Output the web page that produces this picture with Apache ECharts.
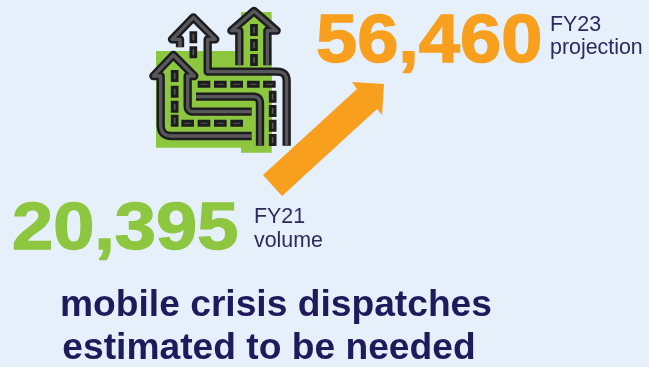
<!DOCTYPE html>
<html>
<head>
<meta charset="utf-8">
<style>html,body{margin:0;padding:0;background:#e6f0fa}#chart{width:649px;height:367px}</style>
<script src="https://cdn.jsdelivr.net/npm/echarts@6/dist/echarts.min.js"></script>
</head>
<body>
<div id="chart"></div>
<script>
// Headline figures and their captions
const volumes = [20395, 56460];
const periods = ['FY21', 'FY23'];
const kinds = ['volume', 'projection'];
const headline = ['mobile crisis dispatches', 'estimated to be needed'];

const ORANGE = '#f99f1e', GREEN = '#8dc63f', NAVY = '#1f1a5c', CAPTION = '#2c2a5e';
const FONT = '"Liberation Sans", Arial, sans-serif';

const chart = echarts.init(document.getElementById('chart'), null, {renderer: 'canvas'});
const fmt = v => v.toLocaleString('en-US');

// Icon artwork: three arrows rising out of a winding road, in a 3x local grid.
// A point tagged 'c' starts a rounded corner: the next two points are control and end.
const roads = [
  [[335,408],[95,408,'c'],[62,408],[62,375],[62,228],[40,228],[100,165],[163,228],[143,228],[143,318,'c'],[143,335],[160,335],[335,335]],
  [[120,142],[120,118],[96,118],[160,52],[226,118],[203,118],[203,215],[412,215,'c'],[440,215],[440,243],[440,437]],
  [[298,196],[298,92],[274,92],[342,33],[410,92],[382,92],[382,196]],
  [[168,290],[340,290,'c'],[360,290],[360,310],[360,437]]
];
const tallDashes = [[104,228],[104,275],[104,320],[104,362],[160,112],[160,157],[342,90],[342,135],[342,180],[398,290],[398,333],[398,377],[398,420]];
const wideDashes = [[192,253],[241,253],[290,253],[340,253],[388,253],[143,370],[192,370],[241,370],[290,370]];

// Flatten the marked corners into short segments for a polyline
function flatten(route) {
  const out = [];
  for (let i = 0; i < route.length; i++) {
    const p = route[i];
    if (p[2] === 'c') {
      const c = route[i + 1], e = route[i + 2];
      for (let t = 0; t <= 1.001; t += 0.125) {
        const u = 1 - t;
        out.push([u * u * p[0] + 2 * u * t * c[0] + t * t * e[0], u * u * p[1] + 2 * u * t * c[1] + t * t * e[1]]);
      }
      i += 2;
    } else {
      out.push([p[0], p[1]]);
    }
  }
  return out;
}

const icon = [
  {type: 'rect', shape: {x: 48, y: 153, width: 347, height: 290}, style: {fill: GREEN}},
  {type: 'rect', shape: {x: 303, y: 36, width: 92, height: 422}, style: {fill: GREEN}},
  {type: 'polygon', shape: {points: [[342,40],[396,88],[288,88]]}, style: {fill: GREEN}}
];
const lines = roads.map(flatten);
lines.forEach(points => icon.push({type: 'polyline', shape: {points}, style: {fill: 'none', stroke: '#1d1d1f', lineWidth: 25, lineJoin: 'round'}}));
lines.forEach(points => icon.push({type: 'polyline', shape: {points}, style: {fill: 'none', stroke: '#58585a', lineWidth: 10, lineJoin: 'round'}}));

const dash = (cx, cy, w, h) => ({
  type: 'rect',
  shape: {x: cx - w / 2, y: cy - h / 2, width: w, height: h},
  style: {fill: '#58585a', stroke: '#1d1d1f', lineWidth: 9}
});
tallDashes.forEach(([x, y]) => icon.push(dash(x, y, 14, 27)));
wideDashes.forEach(([x, y]) => icon.push(dash(x, y, 29, 12)));

const text = (x, y, value, font, fill, align) => ({
  type: 'text', x, y,
  style: {text: value, font, fill, textAlign: align || 'left', textVerticalAlign: 'bottom'}
});

// The large figures sit a little heavier and squatter than the plain bold face
const figure = (x, y, value, fill, scaleY) => ({
  type: 'text', x, y, scaleY,
  style: {text: value, font: `bold 74px ${FONT}`, fill, stroke: fill, lineWidth: 1.5, textVerticalAlign: 'bottom'}
});

chart.setOption({
  backgroundColor: '#e6f0fa',
  animation: false,
  graphic: {elements: [
    {type: 'group', x: 140, y: 0, scaleX: 1 / 3, scaleY: 1 / 3, children: icon},
    {type: 'polygon', shape: {points: [[263,175],[357,89],[352,82],[384,84],[382,115],[377,109],[282,196]]}, style: {fill: ORANGE}},
    figure(316, 77, fmt(volumes[1]), ORANGE, 0.93),
    text(550, 36, periods[1], `21.4px ${FONT}`, CAPTION),
    text(550, 59, kinds[1], `21.4px ${FONT}`, CAPTION),
    figure(12, 263.6, fmt(volumes[0]), GREEN, 0.9),
    text(254, 228, periods[0], `21.4px ${FONT}`, CAPTION),
    text(254, 252, kinds[0], `21.4px ${FONT}`, CAPTION),
    text(276, 324, headline[0], `bold 37.2px ${FONT}`, NAVY, 'center'),
    text(269, 367, headline[1], `bold 37.2px ${FONT}`, NAVY, 'center')
  ]}
});
</script>
</body>
</html>
